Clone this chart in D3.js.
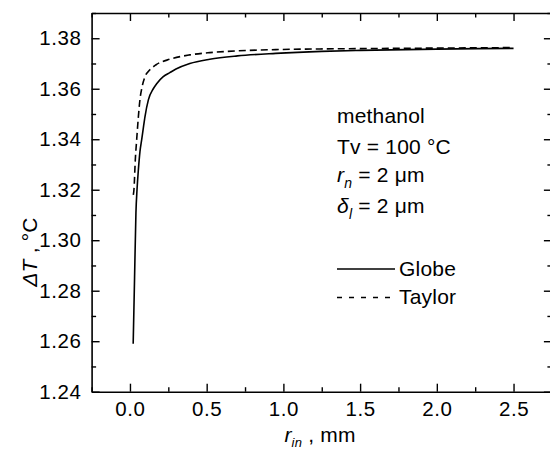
<!DOCTYPE html>
<html>
<head>
<meta charset="utf-8">
<script src="https://cdn.jsdelivr.net/npm/d3@7"></script>
<style>
  html, body { margin: 0; padding: 0; background: #fff; }
  svg { display: block; }
  text { font-family: "Liberation Sans", Arial, Helvetica, sans-serif; fill: #000; }
</style>
</head>
<body>
<svg id="chart" width="550" height="452"></svg>
<script>
// ΔT vs inner radius r_in for methanol, two models
const globeX = [0.021, 0.030, 0.039, 0.046, 0.055, 0.065, 0.077, 0.087, 0.098, 0.120, 0.152, 0.174, 0.217, 0.260, 0.300, 0.390, 0.520, 0.700, 0.950, 1.250, 1.500, 2.000, 2.500];
const globeY = [1.259, 1.285, 1.311, 1.320, 1.328, 1.335, 1.340, 1.3444, 1.349, 1.3556, 1.360, 1.3620, 1.3648, 1.3664, 1.3678, 1.3700, 1.3717, 1.3730, 1.3740, 1.3748, 1.3752, 1.3757, 1.3760];

const taylorX = [0.022, 0.026, 0.035, 0.044, 0.055, 0.065, 0.080, 0.098, 0.130, 0.170, 0.260, 0.390, 0.520, 0.700, 0.950, 1.500, 2.000, 2.500];
const taylorY = [1.318, 1.320, 1.332, 1.340, 1.349, 1.3556, 1.361, 1.3648, 1.3675, 1.3695, 1.3717, 1.3734, 1.3743, 1.3750, 1.3755, 1.3759, 1.3761, 1.3763];

const xMajor = [0.0, 0.5, 1.0, 1.5, 2.0, 2.5];
const xMinor = [-0.25, 0.25, 0.75, 1.25, 1.75, 2.25, 2.75];
const yMajor = [1.24, 1.26, 1.28, 1.30, 1.32, 1.34, 1.36, 1.38];
const yMinor = [1.25, 1.27, 1.29, 1.31, 1.33, 1.35, 1.37, 1.39];

const svg = d3.select("#chart");

const plotL = 91.6, plotR = 551.9, plotT = 13, plotB = 391.7;
const x = d3.scaleLinear().domain([-0.25, 2.75]).range([plotL, plotR]);
const y = d3.scaleLinear().domain([1.24, 1.39]).range([plotB, plotT]);

const TICK_FS = 20.5;
const FS = 21;

function styleAxis(g, labels) {
  g.select(".domain").attr("stroke", "#000").attr("stroke-width", 1.6);
  g.selectAll(".tick line").attr("stroke", "#000").attr("stroke-width", 1.4);
  if (labels) {
    g.selectAll(".tick text")
      .style("font-size", TICK_FS + "px")
      .style("letter-spacing", "0.6px")
      .attr("fill", "#000");
  } else {
    g.selectAll(".tick text").remove();
  }
}

// bottom axis (inward ticks, labelled)
svg.append("g").attr("transform", `translate(0,${plotB})`)
  .call(d3.axisBottom(x).tickValues(xMajor).tickFormat(d3.format(".1f"))
    .tickSizeInner(-8).tickSizeOuter(0).tickPadding(10))
  .call(g => styleAxis(g, true));
svg.append("g").attr("transform", `translate(0,${plotB})`)
  .call(d3.axisBottom(x).tickValues(xMinor).tickSizeInner(-4.5).tickSizeOuter(0))
  .call(g => { g.select(".domain").remove(); styleAxis(g, false); });

// top axis
svg.append("g").attr("transform", `translate(0,${plotT})`)
  .call(d3.axisTop(x).tickValues(xMajor).tickSizeInner(-8).tickSizeOuter(0))
  .call(g => styleAxis(g, false));
svg.append("g").attr("transform", `translate(0,${plotT})`)
  .call(d3.axisTop(x).tickValues(xMinor).tickSizeInner(-4.5).tickSizeOuter(0))
  .call(g => { g.select(".domain").remove(); styleAxis(g, false); });

// left axis (labelled)
svg.append("g").attr("transform", `translate(${plotL},0)`)
  .call(d3.axisLeft(y).tickValues(yMajor).tickFormat(d3.format(".2f"))
    .tickSizeInner(-8).tickSizeOuter(0).tickPadding(10))
  .call(g => styleAxis(g, true));
svg.append("g").attr("transform", `translate(${plotL},0)`)
  .call(d3.axisLeft(y).tickValues(yMinor).tickSizeInner(-4.5).tickSizeOuter(0))
  .call(g => { g.select(".domain").remove(); styleAxis(g, false); });

// right axis
svg.append("g").attr("transform", `translate(${plotR},0)`)
  .call(d3.axisRight(y).tickValues(yMajor).tickSizeInner(-8).tickSizeOuter(0))
  .call(g => styleAxis(g, false));
svg.append("g").attr("transform", `translate(${plotR},0)`)
  .call(d3.axisRight(y).tickValues(yMinor).tickSizeInner(-4.5).tickSizeOuter(0))
  .call(g => { g.select(".domain").remove(); styleAxis(g, false); });

// curves
const line = d3.line().x(d => x(d[0])).y(d => y(d[1])).curve(d3.curveMonotoneX);

svg.append("path")
  .datum(taylorX.map((v, i) => [v, taylorY[i]]))
  .attr("d", line)
  .attr("fill", "none").attr("stroke", "#000").attr("stroke-width", 1.6)
  .attr("stroke-dasharray", "7,4");

svg.append("path")
  .datum(globeX.map((v, i) => [v, globeY[i]]))
  .attr("d", line)
  .attr("fill", "none").attr("stroke", "#000").attr("stroke-width", 1.6);

// annotation block
const ann = svg.append("g").style("font-size", FS + "px").style("letter-spacing", "0.2px");
ann.append("text").attr("x", 337).attr("y", 123).text("methanol");
ann.append("text").attr("x", 337).attr("y", 154).text("Tv = 100 °C");

const rn = ann.append("text").attr("x", 337).attr("y", 182);
rn.append("tspan").style("font-style", "italic").text("r");
rn.append("tspan").style("font-style", "italic").style("font-size", "14px").attr("dy", 6).text("n");
rn.append("tspan").attr("dy", -6).text(" = 2 μm");

const dl = ann.append("text").attr("x", 337).attr("y", 213);
dl.append("tspan").style("font-style", "italic").text("δ");
dl.append("tspan").style("font-style", "italic").style("font-size", "14px").attr("dy", 6).text("l");
dl.append("tspan").attr("dy", -6).text(" = 2 μm");

// legend
svg.append("line").attr("x1", 337).attr("x2", 395).attr("y1", 269).attr("y2", 269)
  .attr("stroke", "#000").attr("stroke-width", 1.6);
svg.append("line").attr("x1", 337).attr("x2", 395).attr("y1", 297.5).attr("y2", 297.5)
  .attr("stroke", "#000").attr("stroke-width", 1.6).attr("stroke-dasharray", "5,7");
ann.append("text").attr("x", 399).attr("y", 276).text("Globe");
ann.append("text").attr("x", 399).attr("y", 304).text("Taylor");

// axis titles
const xt = svg.append("text").attr("x", 320).attr("y", 442)
  .attr("text-anchor", "middle").style("font-size", FS + "px").style("letter-spacing", "0.2px");
xt.append("tspan").style("font-style", "italic").text("r");
xt.append("tspan").style("font-style", "italic").style("font-size", "13px").attr("dy", 5).text("in");
xt.append("tspan").attr("dy", -5).text(" , mm");

const yt = svg.append("text")
  .attr("transform", "translate(37,252) rotate(-90)")
  .attr("text-anchor", "middle").style("font-size", FS + "px").style("letter-spacing", "0.2px");
yt.append("tspan").style("font-style", "italic").text("ΔT");
yt.append("tspan").text(" , °C");
</script>
</body>
</html>
